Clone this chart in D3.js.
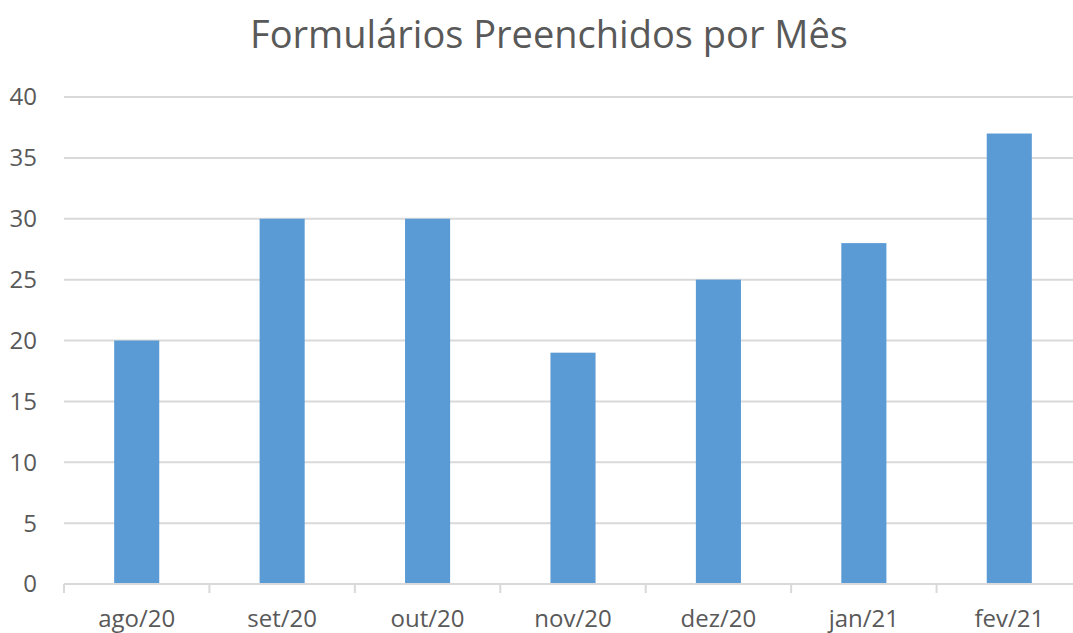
<!DOCTYPE html>
<html><head><meta charset="utf-8">
<script src="https://cdn.jsdelivr.net/npm/d3@7"></script>
<style>body{margin:0;background:#fff}svg{display:block}</style>
</head><body><svg id="c" width="1073" height="633"></svg>
<script>
const categories = ["ago/20","set/20","out/20","nov/20","dez/20","jan/21","fev/21"];
const values = [20,30,30,19,25,28,37];
const yTicks = [0,5,10,15,20,25,30,35,40];
const title = "Formulários Preenchidos por Mês";

(function(){
const svg = d3.select("#c");
const font = "'Open Sans', 'Noto Sans', sans-serif";
const pLeft = 64, pRight = 1082, pTop = 97, pBottom = 584;
const x = d3.scaleBand().domain(categories).range([pLeft, pRight]).paddingInner(0.69).paddingOuter(0.345);
const xb = d3.scaleBand().domain(categories).range([pLeft, pRight]);
const y = d3.scaleLinear().domain([0,40]).range([pBottom, pTop]);

svg.append("g").selectAll("line").data(yTicks.filter(d=>d>0)).join("line")
  .attr("x1", pLeft).attr("x2", pRight).attr("y1", d=>y(d)).attr("y2", d=>y(d))
  .attr("stroke", "#d9d9d9").attr("stroke-width", 2);

svg.append("g").selectAll("rect").data(values).join("rect")
  .attr("x", (d,i)=>x(categories[i])).attr("width", x.bandwidth())
  .attr("y", d=>y(d)).attr("height", d=>pBottom - y(d))
  .attr("fill", "#5b9bd5");

svg.append("line").attr("x1", pLeft).attr("x2", pRight).attr("y1", pBottom).attr("y2", pBottom)
  .attr("stroke", "#d9d9d9").attr("stroke-width", 2);
const bounds = categories.map(c=>xb(c)).concat([pRight]);
svg.append("g").selectAll("line").data(bounds).join("line")
  .attr("x1", d=>d).attr("x2", d=>d).attr("y1", pBottom).attr("y2", pBottom+9)
  .attr("stroke", "#d9d9d9").attr("stroke-width", 2);

svg.append("g").selectAll("text").data(yTicks).join("text")
  .attr("x", 37).attr("y", d=>y(d)).attr("dy", "0.35em").attr("text-anchor", "end")
  .attr("font-family", font).attr("font-size", 24).attr("fill", "#595959").text(d=>d);

svg.append("g").selectAll("text").data(categories).join("text")
  .attr("x", d=>xb(d)+xb.bandwidth()/2).attr("y", 627).attr("text-anchor", "middle")
  .attr("font-family", font).attr("font-size", 24).attr("fill", "#595959").text(d=>d);

svg.append("text").attr("x", 549).attr("y", 48).attr("text-anchor", "middle")
  .attr("font-family", font).attr("font-size", 38).attr("fill", "#595959").text(title);
})();
</script></body></html>
